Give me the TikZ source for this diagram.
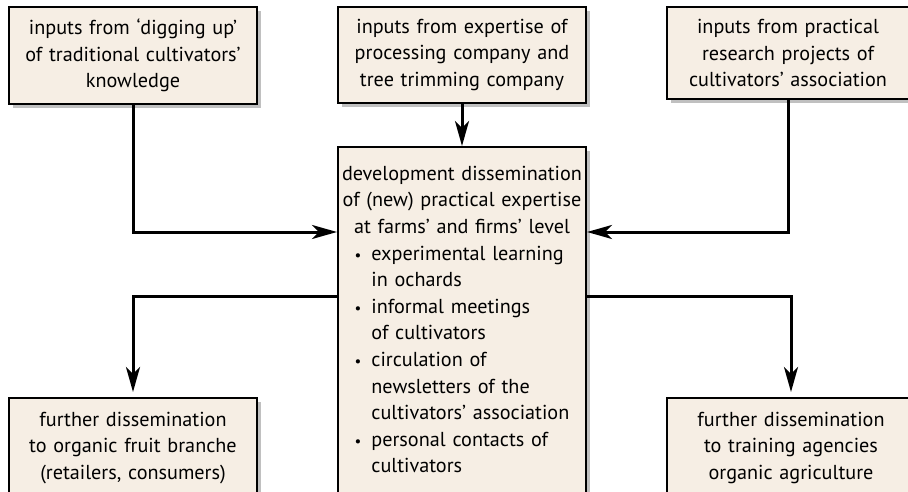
\documentclass[tikz,border=0pt]{standalone}
\usepackage{fontspec}
\setmainfont{PT Sans}
\usetikzlibrary{arrows.meta,shadows,positioning}
\definecolor{boxfill}{RGB}{246,238,228}
\tikzset{
  box/.style={draw=black, line width=2pt, fill=boxfill, align=center,
    text width=242pt, inner xsep=3pt, inner ysep=12pt, anchor=north west,
    font=\fontsize{20.2}{26.6}\selectfont,
    drop shadow={shadow xshift=4pt, shadow yshift=-4pt, fill=black!55, opacity=.45}},
  flow/.style={line width=3pt, -{Stealth[length=25pt,width=14pt,inset=7pt]}}
}
\newcommand{\deep}{\rule[-60pt]{0pt}{60pt}}
\newcommand{\bul}{{\fontsize{15}{15}\selectfont\textbullet}}
\begin{document}
\begin{tikzpicture}[x=1pt,y=-1pt]
\useasboundingbox (0,0) rectangle (908,492);
% inputs
\node[box, minimum height=92pt] (inleft) at (8,6)
  {inputs from `digging up'\\ of traditional cultivators'\\ knowledge};
\node[box, minimum height=92pt] (inmid) at (337,6)
  {inputs from expertise of\\ processing company and\\ tree trimming company};
\node[box, minimum height=92pt, text width=236pt] (inright) at (666,6)
  {inputs from practical\\ research projects of\\ cultivators' association};
% development
\node[box, inner ysep=19pt] (dev) at (337,146)
  {development dissemination\\ of (new) practical expertise\\ at farms' and firms' level\\
  \begin{tabular}[t]{@{}l@{\hspace{10pt}}l@{}}
  \bul & experimental learning\\
   & in ochards\\
  \bul & informal meetings\\
   & of cultivators\\
  \bul & circulation of\\
   & newsletters of the\\
   & cultivators' association\\
  \bul & personal contacts of\\
   & cultivators\deep
  \end{tabular}};
% further dissemination
\node[box, inner ysep=14pt] (outleft) at (8,397)
  {further dissemination\\ to organic fruit branche\\ (retailers, consumers)\deep};
\node[box, inner ysep=14pt] (outright) at (666,397)
  {further dissemination\\ to training agencies\\ organic agriculture\deep};
% connectors
\draw[flow] (inmid.south) -- (dev.north);
\draw[flow] (inleft.south) |- ([yshift=-86pt]dev.north west);
\draw[flow] (inright.south) |- ([yshift=-86pt]dev.north east);
\draw[flow, shorten >=5pt] ([yshift=-150pt]dev.north west) -| (outleft.north);
\draw[flow, shorten >=5pt] ([yshift=-150pt]dev.north east) -| (outright.north);
\end{tikzpicture}
\end{document}
